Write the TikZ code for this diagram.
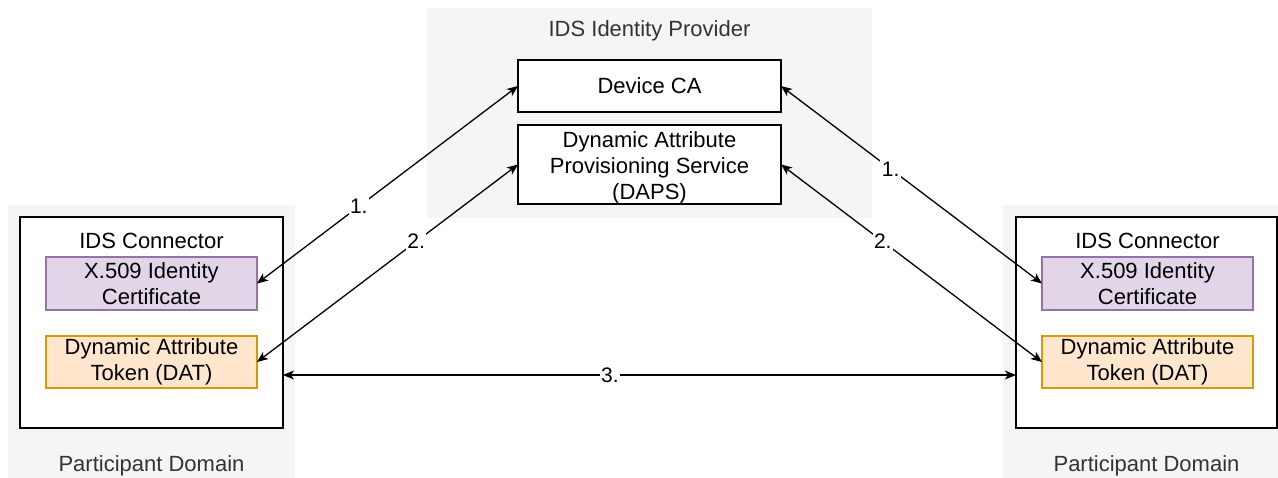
\documentclass[tikz,border=0pt]{standalone}
\usepackage{fontspec}
\setmainfont{Liberation Sans}
\usetikzlibrary{arrows.meta}
\definecolor{regionfill}{HTML}{F5F5F5}
\definecolor{certfill}{HTML}{E1D5E7}
\definecolor{certline}{HTML}{9673A6}
\definecolor{datfill}{HTML}{FFE6CC}
\definecolor{datline}{HTML}{D79B00}
\definecolor{labelgray}{HTML}{333333}
\tikzset{
  region/.style={fill=regionfill, draw=none, inner sep=0pt, outer sep=0pt},
  whitebox/.style={draw=black, fill=white, line width=1.2pt, inner sep=0pt, outer sep=0pt, align=center},
  certbox/.style={whitebox, fill=certfill, draw=certline},
  datbox/.style={whitebox, fill=datfill, draw=datline},
  grouplabel/.style={text=labelgray, inner sep=0pt},
  plainlabel/.style={text=black, inner sep=0pt},
  link/.style={draw=black, line width=1.3pt, {Stealth[length=11pt,width=9pt,inset=3pt]}-{Stealth[length=11pt,width=9pt,inset=3pt]}},
  num/.style={fill=white, inner sep=1.5pt, font=\fontsize{21}{24}\selectfont}
}
\begin{document}
\begin{tikzpicture}[x=1pt, y=-1pt, font=\fontsize{22}{26}\selectfont]
\useasboundingbox (0,0) rectangle (1278,477);
% grey regions
\node[region, minimum width=287pt, minimum height=277pt] (lreg) at (151.5,343.5) {};
\node[region, minimum width=445pt, minimum height=210pt] (preg) at (649.5,113) {};
\node[region, minimum width=287pt, minimum height=277pt] (rreg) at (1146.5,343.5) {};
% region labels
\node[grouplabel] (ptitle) at (649.5,31) {IDS Identity Provider};
\node[grouplabel] (ldom) at (151.5,466) {Participant Domain};
\node[grouplabel] (rdom) at (1146.5,466) {Participant Domain};
% provider boxes
\node[whitebox, minimum width=263pt, minimum height=52pt] (dca) at (649.5,86) {Device CA};
\node[whitebox, minimum width=263pt, minimum height=79pt] (daps) at (649.5,164.5) {};
\node[plainlabel, align=center] (dapstext) at (649.5,168) {Dynamic Attribute\\Provisioning Service\\(DAPS)};
% connectors
\node[whitebox, minimum width=263pt, minimum height=211pt] (lconn) at (151.5,322.5) {};
\node[whitebox, minimum width=261pt, minimum height=211pt] (rconn) at (1146.5,322.5) {};
\node[plainlabel] (lconnlbl) at (151.5,241) {IDS Connector};
\node[plainlabel] (rconnlbl) at (1147.5,241) {IDS Connector};
\node[certbox, minimum width=211pt, minimum height=53pt] (lcert) at (151.5,283.5) {X.509 Identity\\Certificate};
\node[datbox, minimum width=211pt, minimum height=52pt] (ldat) at (151.5,362) {Dynamic Attribute\\Token (DAT)};
\node[certbox, minimum width=211pt, minimum height=53pt] (rcert) at (1147.5,283.5) {X.509 Identity\\Certificate};
\node[datbox, minimum width=211pt, minimum height=52pt] (rdat) at (1147.5,362) {Dynamic Attribute\\Token (DAT)};
% arrows
\draw[link] (dca.west) -- node[num, pos=0.61] {1.} (lcert.east);
\draw[link] (daps.west) -- node[num, pos=0.39] {2.} (ldat.east);
\draw[link] (dca.east) -- node[num, pos=0.42] {1.} (rcert.west);
\draw[link] (daps.east) -- node[num, pos=0.39] {2.} (rdat.west);
\draw[link] ([yshift=-52.5pt]lconn.east) -- node[num, pos=0.446] {3.} ([yshift=-52.5pt]rconn.west);
\end{tikzpicture}
\end{document}
